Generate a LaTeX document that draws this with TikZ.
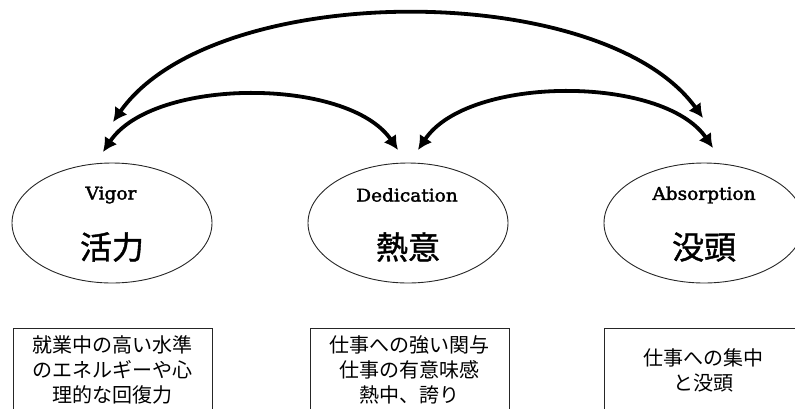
\documentclass[tikz,border=0pt]{standalone}
\usepackage{fontspec}
\usetikzlibrary{shapes.geometric,arrows.meta}
\newfontfamily\slab[FakeStretch=1.06,FakeBold=2]{DejaVu Serif}
\newfontfamily\jp{Noto Sans CJK JP}
\newfontfamily\jpheavy[FakeBold=1.2]{Noto Sans CJK JP}
\begin{document}
\begin{tikzpicture}[x=1pt,y=-1pt,
  oval/.style={draw=black!85,line width=0.9pt,ellipse,minimum width=200pt,minimum height=120pt,inner sep=0pt},
  entxt/.style={font=\slab\fontsize{17.5}{19}\selectfont,inner sep=0pt},
  jptxt/.style={font=\jpheavy\fontsize{32}{34}\selectfont,inner sep=0pt},
  descbox/.style={draw=black!85,line width=0.8pt,rectangle,minimum width=199pt,minimum height=84pt,inner sep=0pt,align=center,font=\jp\fontsize{20}{25}\selectfont},
  link/.style={line width=3.8pt,{Latex[length=14pt,width=15pt]}-{Latex[length=14pt,width=15pt]}}
]
\useasboundingbox (0,0) rectangle (795,408);
% ellipses
\node[oval] (vig) at (112,223) {};
\node[oval] (ded) at (408,223) {};
\node[oval] (abs) at (704,223) {};
\node[entxt] (vigE) at (111,195) {Vigor};
\node[entxt] (dedE) at (407,195) {Dedication};
\node[entxt] (absE) at (704,195) {Absorption};
\node[jptxt] (vigJ) at (112,247) {活力};
\node[jptxt] (dedJ) at (408,247) {熱意};
\node[jptxt] (absJ) at (704,247) {没頭};
% boxes
\node[descbox] (vigB) at (112.5,370) {就業中の高い水準\\のエネルギーや心\\理的な回復力};
\node[descbox] (dedB) at (409.5,370) {仕事への強い関与\\仕事の有意味感\\熱中、誇り};
\node[descbox] (absB) at (703.5,370) {仕事への集中\\と没頭};
% arrow end points
\coordinate (vTop) at (113,122);
\coordinate (aTop) at (703,118);
\coordinate (vLow) at (103,152);
\coordinate (dL) at (398,150);
\coordinate (dR) at (418,150);
\coordinate (aLow) at (713,148);
% arrows
\draw[link] (vTop) .. controls (213,-21) and (603,-21) .. (aTop);
\draw[link] (vLow) .. controls (153,77) and (348,77) .. (dL);
\draw[link] (dR) .. controls (468,75) and (663,75) .. (aLow);
\end{tikzpicture}
\end{document}
